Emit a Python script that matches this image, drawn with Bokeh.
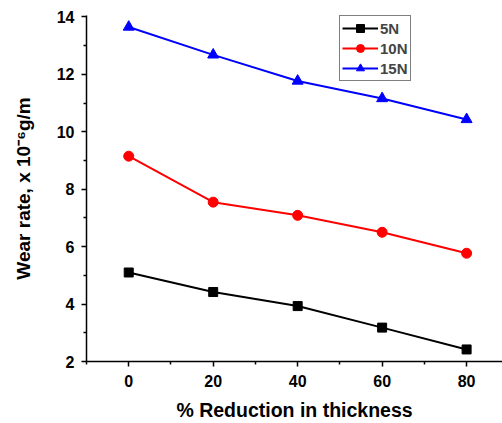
from bokeh.plotting import figure
from bokeh.models import FixedTicker, Range1d, Legend, LegendItem
from bokeh.embed import file_html
from bokeh.resources import INLINE

reduction = [0, 20, 40, 60, 80]
wear_5n = [5.10, 4.42, 3.93, 3.18, 2.42]
wear_10n = [9.15, 7.55, 7.09, 6.50, 5.77]
wear_15n = [13.65, 12.68, 11.77, 11.16, 10.43]
series_names = ["5N", "10N", "15N"]
x_ticks = [0, 20, 40, 60, 80]
y_ticks = [2, 4, 6, 8, 10, 12, 14]

FONT = "Liberation Sans"

p = figure(width=502, height=423, output_backend="svg", toolbar_location=None,
           x_range=Range1d(-10, 88.5), y_range=Range1d(2, 14.05),
           min_border_left=86, min_border_right=0, min_border_top=15, min_border_bottom=62)
p.outline_line_color = None
p.xgrid.visible = False
p.ygrid.visible = False
p.background_fill_color = "white"
p.border_fill_color = "white"

p.xaxis.ticker = FixedTicker(ticks=x_ticks, minor_ticks=[-10, 10, 30, 50, 70])
p.yaxis.ticker = FixedTicker(ticks=y_ticks, minor_ticks=[3, 5, 7, 9, 11, 13])

for ax in (p.xaxis, p.yaxis):
    ax.axis_line_color = "black"
    ax.axis_line_width = 1.5
    ax.major_tick_line_color = "black"
    ax.minor_tick_line_color = "black"
    ax.major_tick_line_width = 1.5
    ax.minor_tick_line_width = 1.5
    ax.major_tick_out = 5
    ax.major_tick_in = 0
    ax.minor_tick_out = 3
    ax.minor_tick_in = 0
    ax.major_label_text_font = FONT
    ax.major_label_text_font_style = "bold"
    ax.major_label_text_font_size = "16px"
    ax.major_label_text_color = "black"
    ax.axis_label_text_font = FONT
    ax.axis_label_text_font_style = "bold"
    ax.axis_label_text_color = "black"

p.xaxis.axis_label_text_font_size = "19.5px"
p.yaxis.axis_label_text_font_size = "19px"
p.xaxis.axis_label = "% Reduction in thickness"
p.yaxis.axis_label = "Wear rate, x 10\u207b\u2076g/m"
p.xaxis.major_label_standoff = 8
p.yaxis.major_label_standoff = 7
p.xaxis.axis_label_standoff = 9
p.yaxis.axis_label_standoff = 20

l1 = p.line(reduction, wear_5n, line_color="black", line_width=2)
m1 = p.scatter(reduction, wear_5n, marker="square", size=9, color="black")
l2 = p.line(reduction, wear_10n, line_color="red", line_width=2)
m2 = p.scatter(reduction, wear_10n, marker="circle", size=10, color="red")
l3 = p.line(reduction, wear_15n, line_color="blue", line_width=2)
m3 = p.scatter(reduction, wear_15n, marker="triangle", size=11, color="blue")

legend = Legend(items=[
    LegendItem(label=series_names[0], renderers=[l1, m1]),
    LegendItem(label=series_names[1], renderers=[l2, m2]),
    LegendItem(label=series_names[2], renderers=[l3, m3]),
], location=(253, 280))
legend.border_line_color = "black"
legend.border_line_width = 1
legend.padding = 2
legend.spacing = 0
legend.margin = 0
legend.glyph_width = 36
legend.glyph_height = 20
legend.label_height = 20
legend.label_standoff = 2
legend.label_text_font = FONT
legend.label_text_font_style = "bold"
legend.label_text_font_size = "15px"
legend.background_fill_alpha = 1
p.add_layout(legend, "center")

open("out.html", "w").write(file_html(p, INLINE))
